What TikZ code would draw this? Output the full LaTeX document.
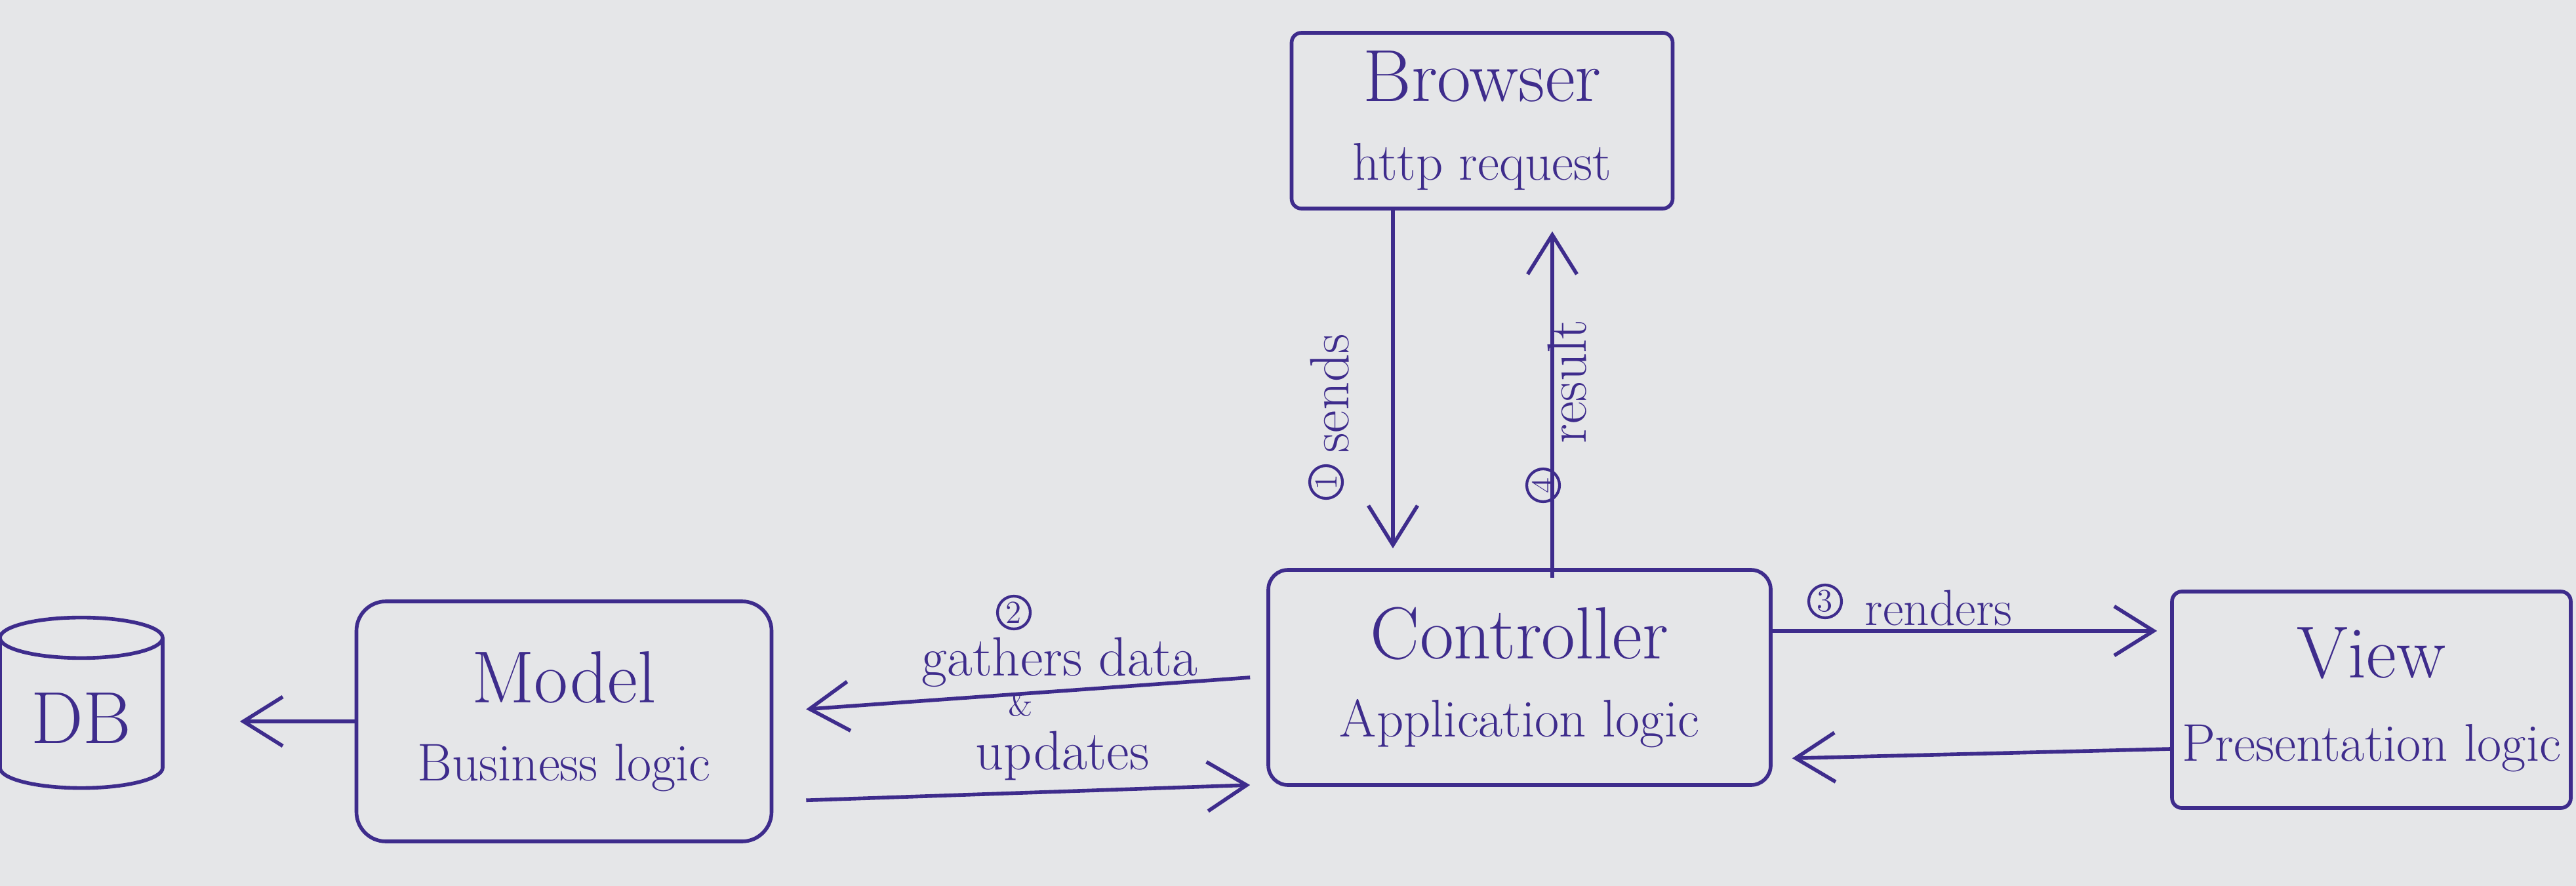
\documentclass[tikz,border=0pt]{standalone}
\usetikzlibrary{arrows.meta, shapes.geometric, positioning}
\definecolor{ink}{RGB}{62,44,140}
\definecolor{paper}{RGB}{229,230,232}
\newcommand{\subline}{\fontsize{23}{26}\selectfont}

\begin{document}
\begin{tikzpicture}[x=1cm, y=-1cm, color=ink, line width=1.6pt,
                    main node/.style= {rectangle,
                      draw,
                      rounded corners=0.3cm,
                      align=center,
                      inner sep=0pt,
                      font=\fontsize{32}{36}\selectfont},
                    flow/.style={-{Straight Barb[length=0.6cm, width=0.75cm]}},
                    lbl/.style={inner sep=0pt, font=\fontsize{24}{28}\selectfont},
                    stepnum/.style={circle, draw, line width=1.2pt,
                      inner sep=0pt, minimum size=0.5cm,
                      font=\fontsize{14}{16}\selectfont}]

  \fill[paper] (0,0) rectangle (39.28,13.51);
  \useasboundingbox (0,0) rectangle (39.28,13.51);

  \node[main node, minimum width=5.81cm, minimum height=2.68cm, rounded corners=0.15cm] (browser) at (22.6,1.84) {Browser\\[-2pt]{\subline http request}};
  \node[main node, minimum width=7.66cm, minimum height=3.28cm] (controller) at (23.17,10.33) {Controller\\[-2pt]{\subline Application logic}};
  \node[main node, minimum width=6.33cm, minimum height=3.66cm, rounded corners=0.45cm] (model) at (8.6,11.0) {Model\\[-2pt]{\subline Business logic}};
  \node[main node, minimum width=6.08cm, minimum height=3.3cm, rounded corners=0.15cm] (view) at (36.16,10.67) {View\\[0pt]{\subline Presentation logic}};
  \node[cylinder, shape border rotate=90, draw, aspect=0.35, minimum width=2.48cm, minimum height=2.6cm, font=\fontsize{32}{36}\selectfont] (db) at (1.24,10.95) {DB};

  \coordinate (sx) at (21.24,0);
  \coordinate (rx) at (23.67,0);

  % browser <-> controller
  \draw[flow, shorten >=0.3cm] (browser.south -| sx) -- (controller.north -| sx);
  \draw[flow, shorten <=-0.15cm, shorten >=0.32cm] (controller.north -| rx) -- (browser.south -| rx);
  \node[lbl, rotate=90] (sends) at (20.28,6.0) {sends};
  \node[stepnum, rotate=90] (s1) at (20.22,7.35) {1};
  \node[lbl, rotate=90] (result) at (23.9,5.82) {result};
  \node[stepnum, rotate=90] (s4) at (23.53,7.4) {4};

  % controller <-> model
  \draw[flow, shorten >=0.5cm] ([xshift=-0.25cm]controller.west) -- ([yshift=0.15cm]model.east);
  \draw[flow, shorten <=0.5cm] ([yshift=-1.22cm]model.east) -- ([xshift=-0.25cm, yshift=-1.64cm]controller.west);
  \node[stepnum] (s2) at (15.46,9.34) {2};
  \node[lbl] (gathers) at (16.16,10.1) {gathers data};
  \node[lbl, font=\fontsize{14}{16}\selectfont] (and) at (15.56,10.74) {\&};
  \node[lbl] (updates) at (16.2,11.52) {updates};

  % model -> db
  \draw[flow, shorten >=1.15cm] (model.west) -- (model.west -| db.east);

  % controller <-> view
  \draw[flow, shorten >=0.2cm] ([yshift=0.71cm]controller.east) -- ([yshift=0.71cm]controller.east -| view.west);
  \draw[flow, shorten >=0.3cm] ([yshift=-0.75cm]view.west) -- ([yshift=-1.24cm]controller.east);
  \node[stepnum] (s3) at (27.83,9.17) {3};
  \node[lbl, font=\fontsize{22}{26}\selectfont] (renders) at (29.56,9.27) {renders};
\end{tikzpicture}
\end{document}
